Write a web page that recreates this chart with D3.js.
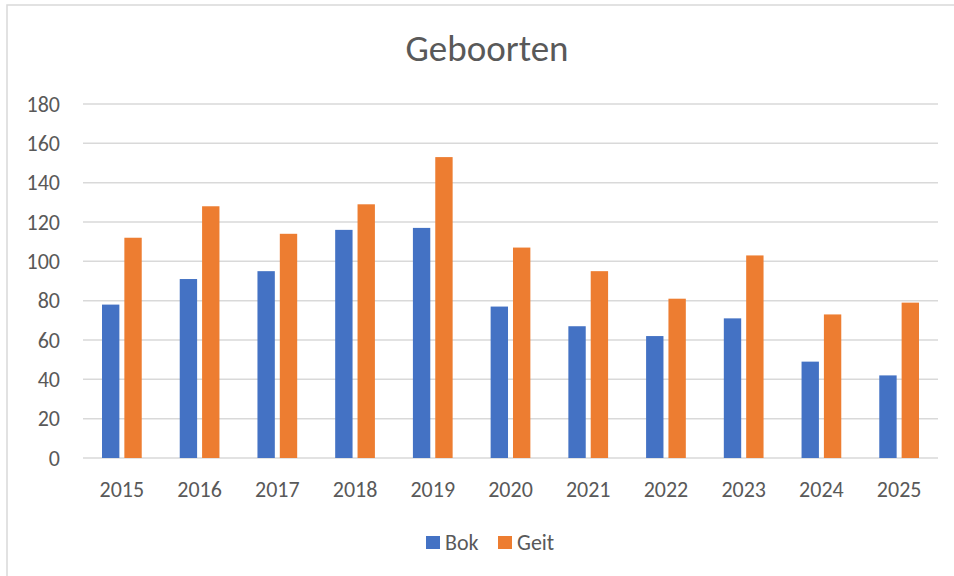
<!DOCTYPE html>
<html>
<head>
<meta charset="utf-8">
<script src="https://cdn.jsdelivr.net/npm/d3@7"></script>
<style>
  html, body { margin: 0; padding: 0; background: #fff; }
  svg { display: block; font-family: Calibri, Carlito, Lato, sans-serif; }
</style>
</head>
<body>
<div id="chart"></div>
<script>
(function () {
  // data
  const years = ["2015", "2016", "2017", "2018", "2019", "2020", "2021", "2022", "2023", "2024", "2025"];
  const series = ["Bok", "Geit"];
  const bok  = [78, 91, 95, 116, 117, 77, 67, 62, 71, 49, 42];
  const geit = [112, 128, 114, 129, 153, 107, 95, 81, 103, 73, 79];
  const yTicks = [0, 20, 40, 60, 80, 100, 120, 140, 160, 180];

  const width = 954, height = 576;
  const colors = { Bok: "#4472C4", Geit: "#ED7D31" };
  const textColor = "#595959";
  const gridColor = "#d9d9d9";

  const svg = d3.select("#chart").append("svg")
    .attr("width", width)
    .attr("height", height);

  // chart frame (runs off the right and bottom edges)
  svg.append("rect")
    .attr("x", 7).attr("y", 5)
    .attr("width", 980).attr("height", 600)
    .attr("fill", "#fff")
    .attr("stroke", gridColor)
    .attr("stroke-width", 1.5);

  const plot = { left: 83, right: 938, top: 104, bottom: 458 };

  const x0 = d3.scaleBand().domain(years).range([plot.left, plot.right]);
  const x1 = d3.scaleBand().domain(series)
    .range([0, x0.bandwidth()])
    .paddingInner(0.223)
    .paddingOuter(0.85);
  const y = d3.scaleLinear().domain([0, 180]).range([plot.bottom, plot.top]);

  // gridlines
  svg.append("g")
    .selectAll("line")
    .data(yTicks)
    .join("line")
    .attr("x1", plot.left).attr("x2", plot.right)
    .attr("y1", d => y(d)).attr("y2", d => y(d))
    .attr("stroke", gridColor)
    .attr("stroke-width", 1.5);

  // y labels
  svg.append("g")
    .selectAll("text")
    .data(yTicks)
    .join("text")
    .attr("x", 60)
    .attr("y", d => y(d) + 7.5)
    .attr("text-anchor", "end")
    .attr("fill", textColor)
    .style("font-size", "22px")
    .text(d => d);

  // bars
  const rows = years.map((yr, i) => ({ year: yr, Bok: bok[i], Geit: geit[i] }));
  svg.append("g")
    .selectAll("g")
    .data(rows)
    .join("g")
    .attr("transform", d => `translate(${x0(d.year)},0)`)
    .selectAll("rect")
    .data(d => series.map(s => ({ key: s, value: d[s] })))
    .join("rect")
    .attr("x", d => x1(d.key))
    .attr("width", x1.bandwidth())
    .attr("y", d => y(d.value))
    .attr("height", d => y(0) - y(d.value))
    .attr("fill", d => colors[d.key]);

  // x labels
  svg.append("g")
    .selectAll("text")
    .data(years)
    .join("text")
    .attr("x", d => x0(d) + x0.bandwidth() / 2)
    .attr("y", 497)
    .attr("text-anchor", "middle")
    .attr("fill", textColor)
    .style("font-size", "22px")
    .text(d => d);

  // title
  svg.append("text")
    .attr("x", 487)
    .attr("y", 61)
    .attr("text-anchor", "middle")
    .attr("fill", textColor)
    .style("font-size", "37px")
    .text("Geboorten");

  // legend
  const legendX = [426, 498];
  const legend = svg.append("g")
    .selectAll("g")
    .data(series)
    .join("g")
    .attr("transform", (d, i) => `translate(${legendX[i]},536)`);
  legend.append("rect")
    .attr("width", 14).attr("height", 13)
    .attr("fill", d => colors[d]);
  legend.append("text")
    .attr("x", 19)
    .attr("y", 14)
    .attr("fill", textColor)
    .style("font-size", "22px")
    .text(d => d);
})();
</script>
</body>
</html>
